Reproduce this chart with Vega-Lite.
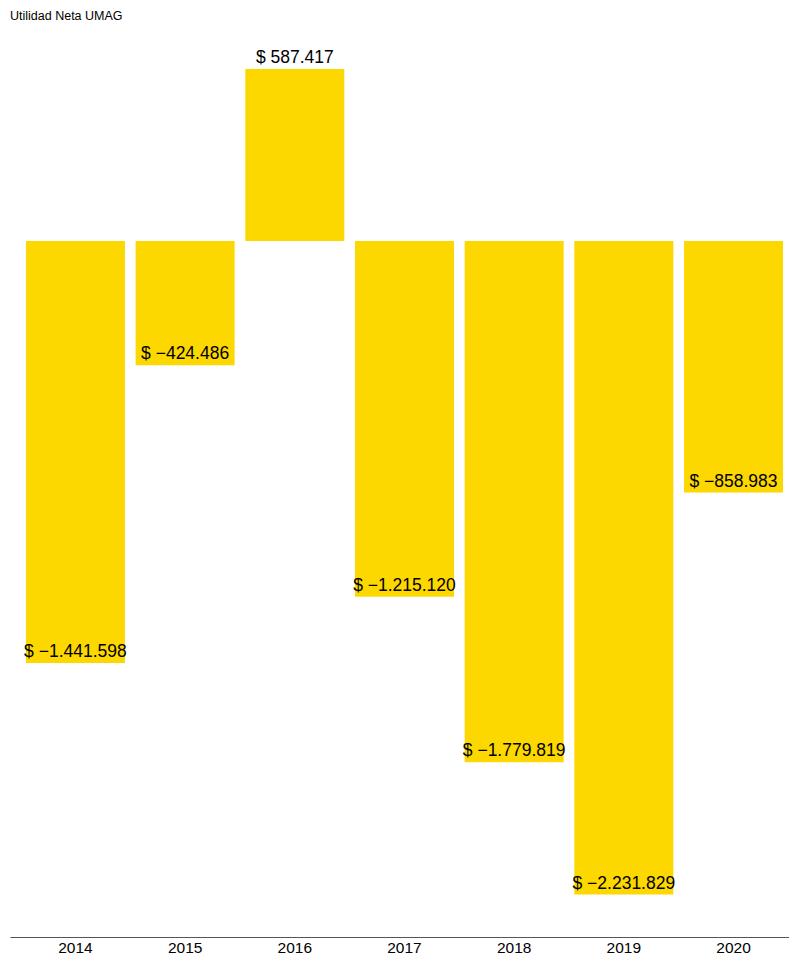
{
  "$schema": "https://vega.github.io/schema/vega-lite/v6.json",
  "autosize": {"type": "none"},
  "width": 779,
  "height": 907,
  "padding": {"left": 10, "top": 30, "right": 0, "bottom": 17},
  "title": {"text": "Utilidad Neta UMAG", "anchor": "start", "frame": "group", "fontSize": 12.5, "fontWeight": "normal", "font": "Liberation Sans", "color": "#000000", "offset": 8},
  "data": {"values": [
    {"year": "2014", "value": -1441598},
    {"year": "2015", "value": -424486},
    {"year": "2016", "value": 587417},
    {"year": "2017", "value": -1215120},
    {"year": "2018", "value": -1779819},
    {"year": "2019", "value": -2231829},
    {"year": "2020", "value": -858983}
  ]},
  "transform": [
    {"calculate": "'$ ' + replace(format(datum.value, ','), /,/g, '.')", "as": "label"}
  ],
  "encoding": {
    "x": {"field": "year", "type": "nominal", "title": null,
      "scale": {"paddingInner": 0.0973, "paddingOuter": 0.1, "align": 0.727},
      "axis": {"labelAngle": 0, "ticks": false, "labelPadding": 3, "labelFontSize": 15.5, "labelFont": "Liberation Sans", "labelColor": "#000000", "domainColor": "#555555", "domainWidth": 1.2, "grid": false}},
    "y": {"field": "value", "type": "quantitative", "scale": {"domain": [-2376968, 720604], "nice": false, "zero": false}, "axis": null}
  },
  "layer": [
    {"mark": {"type": "bar", "color": "#FDD700"}},
    {"mark": {"type": "text", "baseline": "alphabetic", "dy": -6, "fontSize": 17.5, "font": "Liberation Sans", "color": "#000000"},
     "encoding": {"text": {"field": "label"}}}
  ],
  "config": {"view": {"stroke": null}}
}
